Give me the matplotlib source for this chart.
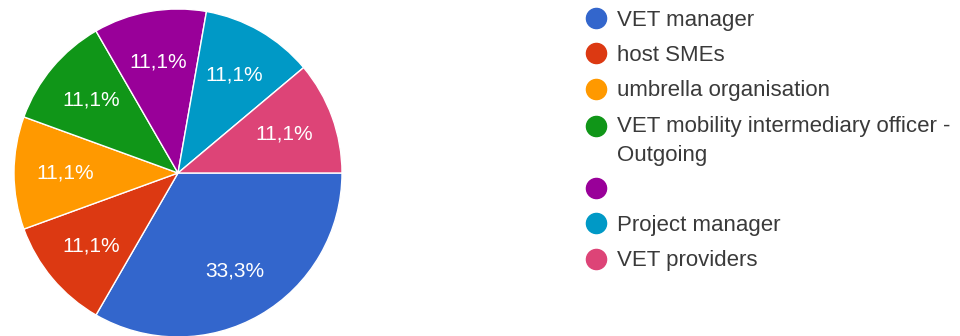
import matplotlib.pyplot as plt
from matplotlib.lines import Line2D

# roles of respondents (Google Forms style pie)
labels = ["VET manager", "host SMEs", "umbrella organisation",
          "VET mobility intermediary officer -\nOutgoing", " ",
          "Project manager", "VET providers"]
values = [3, 1, 1, 1, 1, 1, 1]
pct_text = ["33,3%", "11,1%", "11,1%", "11,1%", "11,1%", "11,1%", "11,1%"]
colors = ["#3366cc", "#dc3912", "#ff9900", "#109618", "#990099", "#0099c6", "#dd4477"]

plt.rcParams['font.family'] = ['Liberation Sans', 'DejaVu Sans']

fig = plt.figure(figsize=(9.6, 3.36), dpi=100)
# pie axes: centre approx (178,173) px, radius 164 px
ax = fig.add_axes([14/960, -1/336, 328/960, 328/336])

it = iter(pct_text)
wedges, texts, autotexts = ax.pie(values, colors=colors, startangle=0, counterclock=False,
                                  autopct=lambda p: next(it), pctdistance=0.69,
                                  wedgeprops=dict(edgecolor='white', linewidth=1),
                                  textprops=dict(color='white', fontsize=15))
ax.set_xlim(-1, 1)
ax.set_ylim(-1, 1)
ax.set_aspect('equal')

handles = [Line2D([0], [0], marker='o', linestyle='', markersize=14.5,
                  markerfacecolor=c, markeredgecolor=c) for c in colors]
leg = fig.legend(handles, labels, loc='upper left', bbox_to_anchor=(585/960, 1 - 10/336),
                 frameon=False, fontsize=16, handlelength=1, handletextpad=0.45,
                 labelspacing=0.64, borderpad=0, borderaxespad=0, labelcolor='#3a3a3a')
leg.get_texts()[3].set_linespacing(1.5)
# put the marker of the two-line entry next to its first line
h = leg.legend_handles[3]
h.set_ydata([y + 11 for y in h.get_ydata()])

fig.savefig("out.png", dpi=100)
